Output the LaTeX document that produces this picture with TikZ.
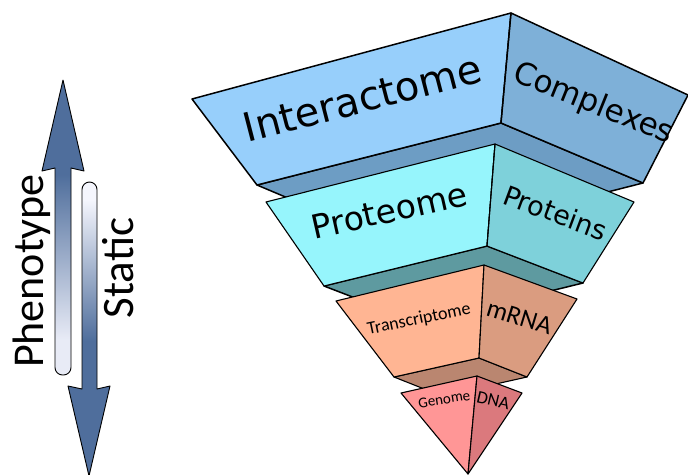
\documentclass[tikz,border=0pt]{standalone}
\usepackage{fontspec}
\setmainfont{Carlito}
\newfontfamily\dejavu{DejaVu Sans}
\usetikzlibrary{shapes,positioning}

% face colours
\definecolor{interleft}{HTML}{97CFFB}
\definecolor{interright}{HTML}{7EB0D8}
\definecolor{interbase}{HTML}{6D9DC4}
\definecolor{protleft}{HTML}{96F5FC}
\definecolor{protright}{HTML}{7ED1DA}
\definecolor{protbase}{HTML}{5E9AA0}
\definecolor{transleft}{HTML}{FFB593}
\definecolor{transright}{HTML}{DA9C80}
\definecolor{transbase}{HTML}{BA8670}
\definecolor{genleft}{HTML}{FF9696}
\definecolor{genright}{HTML}{DB797D}
\definecolor{arrowdark}{HTML}{4F6E9C}
\definecolor{arrowlight}{HTML}{E8EBF6}
\definecolor{arrowpale}{HTML}{F5F6FD}

\pgfdeclareverticalshading{upshade}{100bp}{color(0bp)=(arrowlight); color(31bp)=(arrowlight); color(59bp)=(arrowdark); color(100bp)=(arrowdark)}
\pgfdeclareverticalshading{downshade}{100bp}{color(0bp)=(arrowdark); color(48bp)=(arrowdark); color(72bp)=(arrowpale); color(100bp)=(arrowpale)}

\tikzset{
  face/.style     = {draw, line width=1.5pt, line join=round},
  thinface/.style = {draw, line width=1.1pt, line join=round},
  ridge/.style    = {draw, line width=1pt},
  facetext/.style = {anchor=base, inner sep=0pt},
  bigarrow/.style = {draw, line width=0.9pt, line join=round}
}

\begin{document}
\begin{tikzpicture}[x=1pt, y=-1pt]
\useasboundingbox (0,0) rectangle (688,474);

% corners of the layers
\coordinate (il) at (192,99);   \coordinate (if) at (511,13);   \coordinate (ir) at (688,95);
\coordinate (ibl) at (257,185); \coordinate (ibf) at (501,123); \coordinate (ibr) at (643,183);
\coordinate (ibk) at (399,245);
\coordinate (pl) at (266,202);  \coordinate (pf) at (495,144);  \coordinate (pr) at (634,202);
\coordinate (pbl) at (324,286); \coordinate (pbf) at (487,246); \coordinate (pbr) at (583,283);
\coordinate (pbk) at (420,323);
\coordinate (tl) at (336,301);  \coordinate (tf) at (484,265);  \coordinate (tr) at (577,299);
\coordinate (tbl) at (394,377); \coordinate (tbf) at (479,358); \coordinate (tbr) at (527,377);
\coordinate (tbk) at (442,396);
\coordinate (gl) at (401,393);  \coordinate (gf) at (477,376);  \coordinate (gr) at (522,393);
\coordinate (gtip) at (468,474);

% interactome layer
\path[face, fill=interbase] (ibl) -- (ibf) -- (ibr) -- (ibk) -- cycle;
\path[face, fill=interleft] (il) -- (if) -- (ibf) -- (ibl) -- cycle;
\path[face, fill=interright] (if) -- (ir) -- (ibr) -- (ibf) -- cycle;
\path[ridge] (if) -- (ibf);
\node[facetext, rotate=14.5] (interactome) at (366,112)
  {\dejavu\fontsize{40}{40}\selectfont Interactome};
\node[facetext, rotate=-22] (complexes) at (590,112)
  {\dejavu\fontsize{31}{31}\selectfont Complexes};

% proteome layer
\path[face, fill=protbase] (pbl) -- (pbf) -- (pbr) -- (pbk) -- cycle;
\path[thinface, fill=protleft] (pl) -- (pf) -- (pbf) -- (pbl) -- cycle;
\path[thinface, fill=protright] (pf) -- (pr) -- (pbr) -- (pbf) -- cycle;
\path[ridge] (pf) -- (pbf);
\node[facetext, rotate=12.7] (proteome) at (392,222)
  {\dejavu\fontsize{33}{33}\selectfont Proteome};
\node[facetext, rotate=-20.4] (proteins) at (552,222)
  {\dejavu\fontsize{27}{27}\selectfont Proteins};

% transcriptome layer
\path[thinface, fill=transbase] (tbl) -- (tbf) -- (tbr) -- (tbk) -- cycle;
\path[thinface, fill=transleft] (tl) -- (tf) -- (tbf) -- (tbl) -- cycle;
\path[thinface, fill=transright] (tf) -- (tr) -- (tbr) -- (tbf) -- cycle;
\node[facetext, rotate=11.8] (transcriptome) at (420,324)
  {\fontsize{18}{18}\selectfont Transcriptome};
\node[facetext, rotate=-17] (mrna) at (517,325)
  {\fontsize{26}{26}\selectfont mRNA};

% genome tip
\path[thinface, fill=genleft] (gl) -- (gf) -- (gtip) -- cycle;
\path[thinface, fill=genright] (gf) -- (gr) -- (gtip) -- cycle;
\node[facetext, rotate=9] (genome) at (445,404)
  {\fontsize{15}{15}\selectfont Genome};
\node[facetext, rotate=-13] (dna) at (492,406)
  {\fontsize{18}{18}\selectfont DNA};

% arrows on the left
\path[bigarrow, shading=upshade] (63,80) -- (84,171) -- (71,168)
  [rounded corners=7.5] -- (71,375) -- (55,375) [sharp corners] -- (55,168) -- (42,171) -- cycle;
\path[bigarrow, shading=downshade] (89,476) -- (110,386) -- (97,389)
  [rounded corners=7.5] -- (97,182) -- (82,182) [sharp corners] -- (82,389) -- (68,386) -- cycle;
\node[facetext, rotate=90] (phenotype) at (43,271)
  {\fontsize{44}{44}\selectfont Phenotype};
\node[facetext, rotate=90] (static) at (133,268)
  {\fontsize{45}{45}\selectfont Static};

\end{tikzpicture}
\end{document}
